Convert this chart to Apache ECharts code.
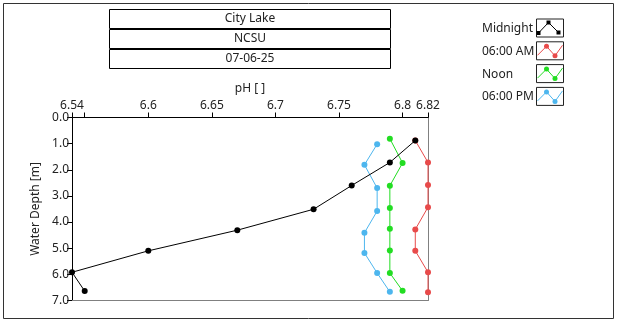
<!DOCTYPE html>
<html>
<head>
<meta charset="utf-8">
<script src="https://cdn.jsdelivr.net/npm/echarts@6/dist/echarts.min.js"></script>
<style>
html,body{margin:0;padding:0;background:#fff;}
#c{width:620px;height:324px;}
</style>
</head>
<body>
<div id="c"></div>
<script>
// ---- data ----
var titleLines = ['City Lake', 'NCSU', '07-06-25'];
var seriesNames = ['Midnight', '06:00 AM', 'Noon', '06:00 PM'];
var xTickLabels = [6.54, 6.6, 6.65, 6.7, 6.75, 6.8, 6.82];
var xTickMarks = [6.54, 6.55, 6.6, 6.65, 6.7, 6.75, 6.8, 6.82];
var yTicks = [0, 1, 2, 3, 4, 5, 6, 7];

var phMidnight = [6.81, 6.79, 6.76, 6.73, 6.67, 6.60, 6.54, 6.55];
var depthMidnight = [0.88, 1.72, 2.60, 3.51, 4.31, 5.10, 5.92, 6.64];
var ph6am = [6.81, 6.82, 6.82, 6.82, 6.81, 6.81, 6.82, 6.82];
var depth6am = [0.88, 1.72, 2.58, 3.43, 4.28, 5.10, 5.92, 6.68];
var phNoon = [6.79, 6.80, 6.79, 6.79, 6.79, 6.79, 6.79, 6.80];
var depthNoon = [0.81, 1.74, 2.61, 3.46, 4.26, 5.09, 5.95, 6.63];
var ph6pm = [6.78, 6.77, 6.78, 6.78, 6.77, 6.77, 6.78, 6.79];
var depth6pm = [1.02, 1.81, 2.70, 3.58, 4.41, 5.18, 5.95, 6.67];

var colors = ['#000000', '#e84a4a', '#22dd22', '#4db6ee'];
var FONT = 'Noto Sans';
var TXT = '#222222';

function pairs(xs, ys) { return xs.map(function (x, i) { return [x, ys[i]]; }); }

var seriesData = [
  pairs(phMidnight, depthMidnight),
  pairs(ph6am, depth6am),
  pairs(phNoon, depthNoon),
  pairs(ph6pm, depth6pm)
];

var chart = echarts.init(document.getElementById('c'), null, {renderer: 'canvas'});

// graphics: frame, title boxes, legend
var graphics = [];
graphics.push({type: 'rect', shape: {x: 3.5, y: 3.5, width: 610, height: 315},
  style: {fill: 'none', stroke: '#333', lineWidth: 1}, silent: true});
var boxTop = 9, rowH = 20;
titleLines.forEach(function (t, i) {
  var y = boxTop + i * rowH;
  graphics.push({type: 'rect', shape: {x: 109.5, y: y + 0.5, width: 281, height: rowH - 1},
    style: {fill: '#fff', stroke: '#000', lineWidth: 1}, silent: true});
  graphics.push({type: 'text', x: 250, y: y + rowH / 2,
    style: {text: t, fill: TXT, font: '12px "' + FONT + '"', align: 'center', verticalAlign: 'middle'}, silent: true});
});
var legY0 = 28.5, legDy = 22.8;
seriesNames.forEach(function (n, i) {
  var cy = legY0 + i * legDy;
  graphics.push({type: 'text', x: 482, y: cy,
    style: {text: n, fill: TXT, font: '12px "' + FONT + '"', align: 'left', verticalAlign: 'middle'}, silent: true});
  graphics.push({type: 'rect', shape: {x: 536.5, y: cy - 9.5, width: 27, height: 18},
    style: {fill: '#fff', stroke: '#222', lineWidth: 1}, silent: true});
  var pts, dots;
  if (i === 0) {
    pts = [[538.5, cy + 4.5], [548.5, cy - 6], [558.5, cy + 4]];
    dots = pts;
    graphics.push({type: 'polyline', shape: {points: pts}, style: {stroke: colors[i], lineWidth: 1, fill: 'none'}, silent: true});
    dots.forEach(function (p) {
      graphics.push({type: 'rect', shape: {x: p[0] - 2, y: p[1] - 2, width: 4, height: 4}, style: {fill: colors[i]}, silent: true});
    });
  } else {
    pts = [[537.5, cy + 4], [546.5, cy - 5], [555, cy + 4.5], [562.5, cy - 6]];
    dots = [pts[1], pts[2]];
    graphics.push({type: 'polyline', shape: {points: pts}, style: {stroke: colors[i], lineWidth: 1, fill: 'none'}, silent: true});
    dots.forEach(function (p) {
      graphics.push({type: 'circle', shape: {cx: p[0], cy: p[1], r: 2.5}, style: {fill: colors[i]}, silent: true});
    });
  }
});

var drawOrder = [3, 2, 1, 0];
var series = drawOrder.map(function (i) {
  return {
    name: seriesNames[i], type: 'line', data: seriesData[i],
    xAxisIndex: 0, yAxisIndex: 0,
    symbol: 'circle', symbolSize: 6,
    showSymbol: true, animation: false, clip: true, z: 10 + (3 - i),
    lineStyle: {color: colors[i], width: 1},
    itemStyle: {color: colors[i], borderWidth: 0}
  };
});

chart.setOption({
  backgroundColor: '#ffffff',
  animation: false,
  textStyle: {fontFamily: FONT},
  grid: {left: 72, top: 117.5, right: 192, bottom: 23.5, containLabel: false, show: false},
  xAxis: [{
    type: 'value', position: 'top', min: 6.54, max: 6.82,
    name: 'pH [ ]', nameLocation: 'middle', nameGap: 20,
    nameTextStyle: {color: TXT, fontSize: 12, fontFamily: FONT},
    axisLine: {show: true, lineStyle: {color: '#000', width: 1}},
    axisTick: {show: true, inside: false, length: 5, customValues: xTickMarks, lineStyle: {color: '#000'}},
    axisLabel: {show: true, customValues: xTickLabels, color: TXT, fontSize: 12, fontFamily: FONT, margin: 6,
      formatter: function (v) { return String(+v.toFixed(2)); }},
    splitLine: {show: false}
  }, {
    type: 'value', position: 'bottom', min: 0, max: 1,
    axisLine: {show: true, lineStyle: {color: '#808080', width: 1}},
    axisTick: {show: false}, axisLabel: {show: false}, splitLine: {show: false}
  }],
  yAxis: [{
    type: 'value', inverse: true, min: 0, max: 7, interval: 1,
    name: 'Water Depth [m]', nameLocation: 'middle', nameGap: 27, nameRotate: 90,
    nameTextStyle: {color: TXT, fontSize: 12, fontFamily: FONT},
    axisLine: {show: true, lineStyle: {color: '#000', width: 1}},
    axisTick: {show: true, length: 5, lineStyle: {color: '#000'}},
    axisLabel: {show: true, color: TXT, fontSize: 12, fontFamily: FONT, margin: 3,
      formatter: function (v) { return v.toFixed(1); }},
    splitLine: {show: false}
  }, {
    type: 'value', position: 'right', min: 0, max: 1,
    axisLine: {show: true, lineStyle: {color: '#808080', width: 1}},
    axisTick: {show: false}, axisLabel: {show: false}, splitLine: {show: false}
  }],
  series: series,
  graphic: graphics
});
</script>
</body>
</html>
